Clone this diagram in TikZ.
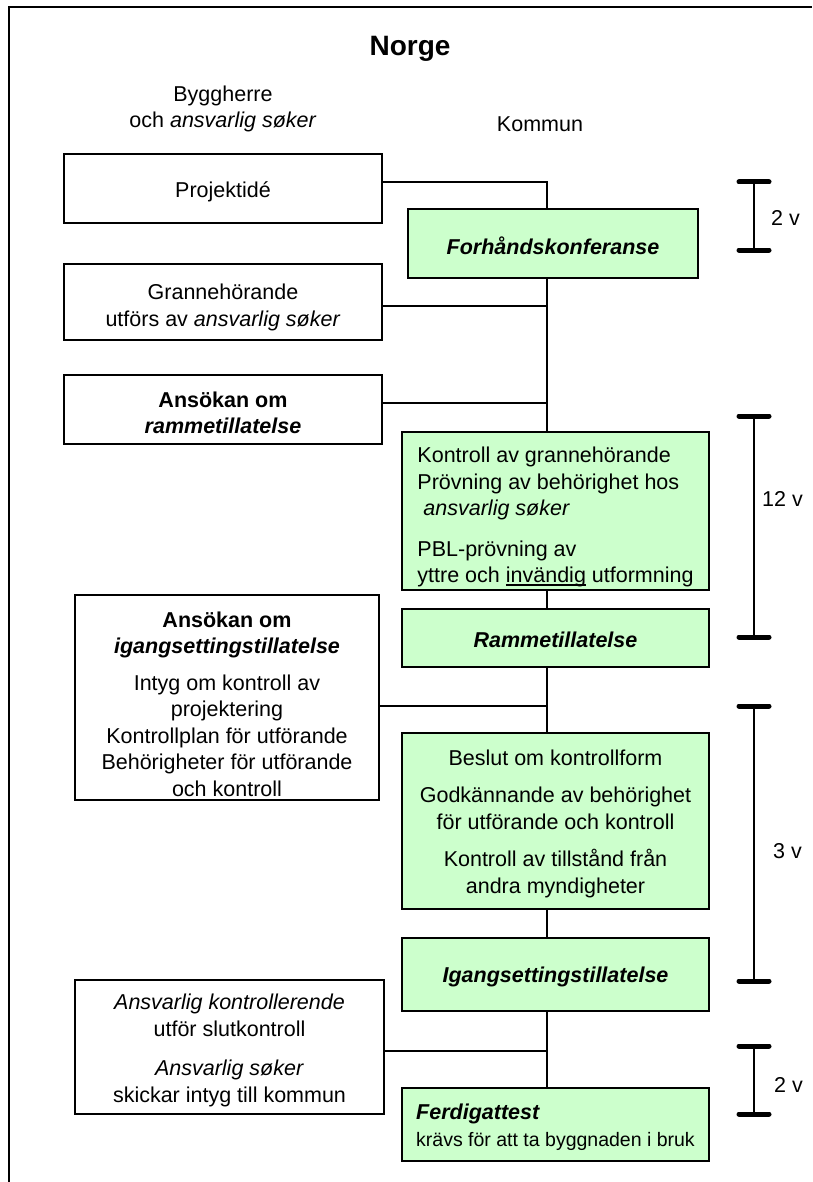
\documentclass[tikz,border=0pt]{standalone}
\usepackage{fontspec}
\setmainfont{Liberation Sans}
\definecolor{kgreen}{HTML}{CCFFCC}
% underline set close to the baseline
\newcommand\undl[1]{\setbox0\hbox{#1}\rlap{\rule[-3pt]{\wd0}{1.4pt}}\box0\relax}
% lower a single line inside its node without changing the node size
\newcommand\droptext[2]{\raisebox{-#1}[\height][\depth]{#2}}
\begin{document}
\begin{tikzpicture}[x=1pt,y=-1pt,
  txt/.style={font=\fontsize{21.5}{26.5}\selectfont},
  box/.style={txt, draw=black, line width=1.6pt, inner sep=0pt, outer sep=0pt, align=center},
  whitebox/.style={box, fill=white},
  greenbox/.style={box, fill=kgreen},
  link/.style={line width=1.5pt},
  spanline/.style={line width=2.5pt},
  spancap/.style={line width=5pt, line cap=round},
  weeks/.style={txt, anchor=west, inner sep=0pt}]
\useasboundingbox (0,0) rectangle (812,1182);

% outer frame
\draw[line width=2pt] (9,1182) -- (9,7) -- (812,7);

% headings
\node[font=\fontsize{28}{32}\selectfont\bfseries] (title) at (410,49) {Norge};
\node[txt, align=center] (bygg) at (223,109) {Byggherre\\och \textit{ansvarlig søker}};
\node[txt] (kommun) at (540,124) {Kommun};

% process boxes
\node[whitebox, minimum width=318pt, minimum height=69pt] (proj) at (223,188.5) {\droptext{3pt}{Projektidé}};
\node[greenbox, minimum width=290pt, minimum height=69pt] (forh) at (553,243.5) {\droptext{2pt}{\textbf{\textit{Forhåndskonferanse}}}};
\node[whitebox, minimum width=318pt, minimum height=76pt] (granne) at (223,302) {\rule{0pt}{26pt}Grannehörande\\utförs av \textit{ansvarlig søker}};
\node[whitebox, minimum width=318pt, minimum height=69pt] (ansram) at (223,409.5) {\rule{0pt}{22pt}\textbf{Ansökan om}\\\textbf{\textit{rammetillatelse}}};
\node[greenbox, align=left, minimum width=307pt, minimum height=158pt] (kontr) at (555.5,511) {\rule{0pt}{28pt}Kontroll av grannehörande\\Prövning av behörighet hos\\\hspace*{6pt}\textit{ansvarlig søker}\\[14pt]PBL-prövning av\\yttre och \undl{invändig} utformning};
\node[greenbox, minimum width=307pt, minimum height=58pt] (ramme) at (555.5,638) {\droptext{2pt}{\textbf{\textit{Rammetillatelse}}}};
\node[whitebox, minimum width=304pt, minimum height=205pt] (ansig) at (227,697.5) {\rule{0pt}{29pt}\textbf{Ansökan om}\\\textbf{\textit{igangsettingstillatelse}}\\[10pt]Intyg om kontroll av\\projektering\\Kontrollplan för utförande\\Behörigheter för utförande\\och kontroll};
\node[greenbox, minimum width=307pt, minimum height=176pt] (beslut) at (555.5,821) {\rule{0pt}{21pt}Beslut om kontrollform\\[11pt]Godkännande av behörighet\\för utförande och kontroll\\[11pt]Kontroll av tillstånd från\\andra myndigheter};
\node[greenbox, minimum width=307pt, minimum height=73pt] (igang) at (555.5,974.5) {\droptext{2.5pt}{\textbf{\textit{Igangsettingstillatelse}}}};
\node[whitebox, minimum width=309pt, minimum height=134pt] (ansv) at (229.5,1047) {\rule{0pt}{22pt}\textit{Ansvarlig kontrollerende}\\utför slutkontroll\\[13pt]\textit{Ansvarlig søker}\\skickar intyg till kommun};
\node[greenbox, align=left, minimum width=307pt, minimum height=73pt] (ferdig) at (555.5,1124.5) {\rule{0pt}{21pt}\textbf{\textit{Ferdigattest}}\\{\fontsize{19.5}{24}\selectfont krävs för att ta byggnaden i bruk}};

% trunk and junctions
\coordinate (t) at (547,0);
\coordinate (j1) at (547,182);
\coordinate (j2) at (547,306);
\coordinate (j3) at (547,403);
\coordinate (j4) at (547,706);
\coordinate (j5) at (547,1051);

\draw[link] (proj.east |- j1) -- (j1) -- (forh.north -| t);
\draw[link] (forh.south -| t) -- (kontr.north -| t);
\draw[link] (granne.east |- j2) -- (j2);
\draw[link] (ansram.east |- j3) -- (j3);
\draw[link] (kontr.south -| t) -- (ramme.north -| t);
\draw[link] (ramme.south -| t) -- (beslut.north -| t);
\draw[link] (ansig.east |- j4) -- (j4);
\draw[link] (beslut.south -| t) -- (igang.north -| t);
\draw[link] (igang.south -| t) -- (ferdig.north -| t);
\draw[link] (ansv.east |- j5) -- (j5);

% duration bars
\foreach \a/\b in {182/250, 416/637, 706/981, 1046/1114} {
  \draw[spanline] (754,\a) -- (754,\b);
  \draw[spancap] (739,\a) -- (769,\a);
  \draw[spancap] (739,\b) -- (769,\b);
}
\node[weeks] (w1) at (771,218) {2 v};
\node[weeks] (w2) at (762,499) {12 v};
\node[weeks] (w3) at (773,851) {3 v};
\node[weeks] (w4) at (774,1085) {2 v};
\end{tikzpicture}
\end{document}
